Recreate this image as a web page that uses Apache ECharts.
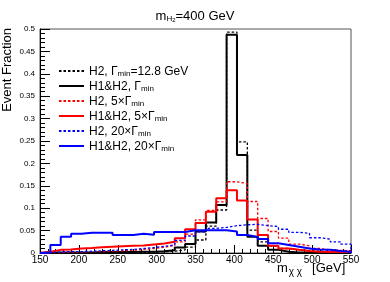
<!DOCTYPE html>
<html><head><meta charset="utf-8">
<script src="https://cdn.jsdelivr.net/npm/echarts@6/dist/echarts.min.js"></script>
<style>html,body{margin:0;padding:0;background:#fff}#c{width:390px;height:282px}</style>
</head><body><div id="c"></div>
<script>
// Histogram binning (GeV)
const xMin = 150, xMax = 550, nBins = 30;
const binWidth = (xMax - xMin) / nBins;
const binEdges = Array.from({length: nBins + 1}, (_, k) => xMin + k * binWidth);

// Event fraction per bin
const h2Gmin      = [0.0005,0.0005,0.0005,0.0006,0.0007,0.0008,0.0009,0.001,0.0012,0.0015,0.002,0.003,0.004,0.007,0.013,0.029,0.060,0.096,0.493,0.248,0.051,0.025,0.0156,0.010,0.007,0.005,0.004,0.003,0.002,0.002];
const h1h2Gmin    = [0.001,0.001,0.001,0.001,0.001,0.002,0.002,0.002,0.002,0.003,0.003,0.004,0.006,0.012,0.020,0.048,0.068,0.107,0.487,0.219,0.036,0.016,0.007,0.003,0.001,0.001,0.001,0.001,0.001,0.001];
const h2G5        = [0.001,0.001,0.002,0.002,0.003,0.003,0.004,0.005,0.006,0.008,0.010,0.013,0.017,0.025,0.042,0.074,0.095,0.114,0.159,0.155,0.115,0.077,0.048,0.033,0.020,0.016,0.010,0.007,0.006,0.005];
const h1h2G5      = [0.003,0.007,0.008,0.010,0.011,0.013,0.014,0.015,0.016,0.017,0.019,0.021,0.025,0.033,0.053,0.067,0.092,0.122,0.140,0.117,0.075,0.040,0.016,0.010,0.007,0.0045,0.003,0.0025,0.002,0.002];
const h2G20       = [0.001,0.002,0.003,0.003,0.004,0.005,0.006,0.007,0.008,0.010,0.012,0.015,0.018,0.028,0.038,0.047,0.055,0.057,0.061,0.063,0.064,0.061,0.059,0.053,0.046,0.044,0.034,0.031,0.025,0.020];
const h1h2G20     = [0.001,0.018,0.036,0.043,0.045,0.045,0.045,0.040,0.040,0.043,0.041,0.047,0.047,0.047,0.051,0.051,0.051,0.051,0.048,0.040,0.036,0.031,0.022,0.018,0.014,0.010,0.008,0.007,0.0045,0.003];

const seriesNames = ['s1','s2','s3','s4','s5','s6'];
const legendRich = {
  s1: '{t|H2, Γ}{s|min}{t|=12.8 GeV}',
  s2: '{t|H1&H2, Γ}{s|min}',
  s3: '{t|H2, 5×Γ}{s|min}',
  s4: '{t|H1&H2, 5×Γ}{s|min}',
  s5: '{t|H2, 20×Γ}{s|min}',
  s6: '{t|H1&H2, 20×Γ}{s|min}'
};

function histData(vals) {
  const d = [[binEdges[0], 0]];
  vals.forEach((v, i) => d.push([binEdges[i], v]));
  d.push([binEdges[nBins], vals[nBins - 1]]);
  d.push([binEdges[nBins], 0]);
  return d;
}

const specs = [
  {name:'s1', vals:h2Gmin,   color:'#000000', type:[2.5,2], width:1.3},
  {name:'s2', vals:h1h2Gmin, color:'#000000', type:'solid', width:2},
  {name:'s3', vals:h2G5,     color:'#ff0000', type:[2.5,2], width:1.3},
  {name:'s4', vals:h1h2G5,   color:'#ff0000', type:'solid', width:2},
  {name:'s5', vals:h2G20,    color:'#0000ff', type:[2.5,2], width:1.3},
  {name:'s6', vals:h1h2G20,  color:'#0000ff', type:'solid', width:2}
];

const font = 'Liberation Sans, Arial, Helvetica, sans-serif';
const chart = echarts.init(document.getElementById('c'), null, {renderer:'canvas'});
chart.setOption({
  animation: false,
  backgroundColor: '#fff',
  title: {
    text: '{m|m}{h|H}{two|2}{m|=400 GeV}',
    left: 'center', top: 2,
    textStyle: {
      fontWeight: 'normal',
      rich: {
        m: {fontFamily: font, fontSize: 13, fontWeight: 'normal', color: '#000', verticalAlign: 'bottom', lineHeight: 16},
        h: {fontFamily: font, fontSize: 8, fontWeight: 'normal', color: '#000', padding: [6,0,0,0], verticalAlign: 'bottom', lineHeight: 16},
        two: {fontFamily: font, fontSize: 6, fontWeight: 'normal', color: '#000', padding: [10,0,0,0], verticalAlign: 'bottom', lineHeight: 16}
      }
    }
  },
  grid: {left: 40, right: 39, top: 29, bottom: 29, show: true, borderColor: '#555', borderWidth: 1},
  legend: {
    orient: 'vertical', left: 53, top: 60,
    itemWidth: 25, itemHeight: 14, itemGap: 2,
    data: seriesNames,
    itemStyle: {opacity: 0},
    formatter: n => legendRich[n],
    textStyle: {
      rich: {
        t: {fontFamily: font, fontSize: 12, color: '#000', lineHeight: 14, verticalAlign: 'bottom'},
        s: {fontFamily: font, fontSize: 8, color: '#000', lineHeight: 9, padding: [5,0,0,0], verticalAlign: 'bottom'}
      }
    }
  },
  graphic: [
    {type:'text', x: 7, y: 28, rotation: Math.PI/2,
     style:{text:'Event Fraction', font: '13px ' + font, fill:'#000', align:'right', verticalAlign:'middle'}},
    {type:'text', left: 277, top: 262,
     style:{rich:{m:{font:'13px ' + font, fill:'#000'},
                  s:{font:'10px ' + font, fill:'#000', padding:[7,0,0,1]},
                  g:{font:'13px ' + font, fill:'#000', padding:[0,0,0,10]}},
            text:'{m|m}{s|χ χ}{g|[GeV]}', fill:'#000'}}
  ],
  xAxis: {
    type: 'value', min: xMin, max: xMax, interval: 50,
    axisLine: {show: true, onZero: false, lineStyle: {color: '#000', width: 1}},
    axisTick: {show: true, inside: true, length: 8, lineStyle: {color: '#000'}},
    minorTick: {show: true, splitNumber: 5, length: 4, lineStyle: {color: '#000'}},
    splitLine: {show: false},
    axisLabel: {fontFamily: font, fontSize: 10, color: '#000', margin: 2}
  },
  yAxis: {
    type: 'value', min: 0, max: 0.5, interval: 0.05,
    axisLine: {show: true, onZero: false, lineStyle: {color: '#000', width: 1}},
    axisTick: {show: true, inside: true, length: 10, lineStyle: {color: '#000'}},
    minorTick: {show: true, splitNumber: 5, length: 5, lineStyle: {color: '#000'}},
    splitLine: {show: false},
    axisLabel: {fontFamily: font, fontSize: 8, color: '#000', margin: 5}
  },
  series: specs.map(s => ({
    name: s.name, type: 'line', step: 'end', symbol: 'none',
    data: histData(s.vals),
    lineStyle: {color: s.color, width: s.width, type: s.type},
    itemStyle: {color: s.color}
  }))
});
</script></body></html>
